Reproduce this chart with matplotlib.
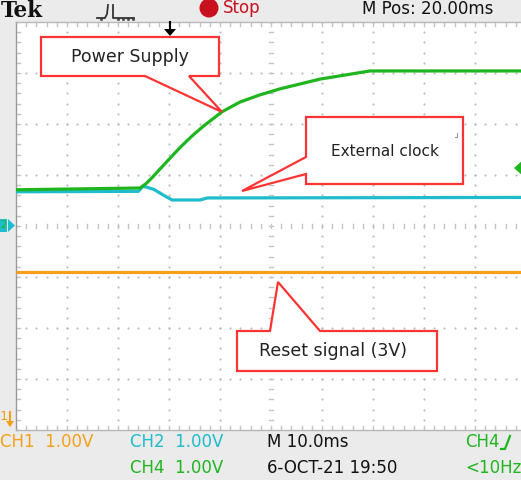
import matplotlib
matplotlib.use('Agg')
import matplotlib.pyplot as plt
from matplotlib.patches import Polygon, Rectangle, Circle
import numpy as np

# ---------------- data (time in ms, level in divisions, 1 V/div) ----------------
t_ch4 = [0, 24.3, 25.5, 26.7, 27.8, 29.0, 30.4, 31.8, 33.3, 34.9, 36.9, 40.4, 43.9, 47.8,
         51.8, 55.7, 59.6, 64.5, 69.4, 100]
v_ch4 = [0.71, 0.745, 0.83, 0.95, 1.07, 1.20, 1.35, 1.50, 1.65, 1.80, 1.97, 2.24, 2.43, 2.57,
         2.69, 2.785, 2.88, 2.96, 3.04, 3.04]
t_ch2 = [0, 24.0, 24.9, 27.0, 29.0, 30.6, 36.1, 37.5, 100]
v_ch2 = [0.67, 0.68, 0.78, 0.72, 0.60, 0.51, 0.51, 0.55, 0.56]
t_ch1 = [0, 100]
v_ch1 = [-0.90, -0.90]

top_texts = ["Tek", "Stop", "M Pos: 20.00ms"]
bottom_row1 = ["CH1  1.00V", "CH2  1.00V", "M 10.0ms", "CH4"]
bottom_row2 = ["CH4  1.00V", "6-OCT-21 19:50", "<10Hz"]
callouts = ["Power Supply", "External clock", "Reset signal (3V)"]

C_ORANGE = '#f5a01a'
C_CYAN = '#1ebccc'
C_GREEN = '#1fb51f'
C_RED = '#ff3333'
FONT = 'DejaVu Sans'

W, H = 521, 480
fig = plt.figure(figsize=(W / 100, H / 100), dpi=100)
fig.patch.set_facecolor('#ebebeb')

# ---------------- scope screen ----------------
L, T, R, B = 16, 22, 526, 430
ax = fig.add_axes([L / W, (H - B) / H, (R - L) / W, (B - T) / H])
ax.set_xlim(0, 100)
ax.set_ylim(-4, 4)
ax.set_facecolor('white')
for s in ax.spines.values():
    s.set_color('#b8b8b8')
    s.set_linewidth(1.0)
ax.spines['left'].set_color('#9a9a9a')
ax.set_xticks([]); ax.set_yticks([])

dot = dict(color='#bcbcbc', s=2.4, linewidths=0, zorder=1)
ys = np.arange(-4, 4.01, 0.2)
xs = np.arange(0, 100.1, 2)
for gx in range(10, 100, 10):
    if gx == 50:
        continue
    ax.scatter(np.full_like(ys, gx), ys, **dot)
for gy in range(-3, 4):
    if gy == 0:
        continue
    ax.scatter(xs, np.full_like(xs, gy), **dot)
# centre lines: short dashes
for x in xs:
    ax.plot([x, x], [-0.045, 0.045], color='#c4c4c4', lw=1.0, zorder=1)
for y in ys:
    ax.plot([49.6, 50.4], [y, y], color='#c4c4c4', lw=1.0, zorder=1)
# border ticks
for x in xs:
    ax.plot([x, x], [4, 3.92], color='#c4c4c4', lw=1.0, zorder=1)
    ax.plot([x, x], [-4, -3.92], color='#c4c4c4', lw=1.0, zorder=1)
for y in ys:
    ax.plot([0, 0.8], [y, y], color='#c4c4c4', lw=1.0, zorder=1)

ax.plot(t_ch1, v_ch1, color=C_ORANGE, lw=2.3, zorder=3, solid_capstyle='butt')
ax.plot(t_ch2, v_ch2, color=C_CYAN, lw=2.3, zorder=3, solid_capstyle='butt', solid_joinstyle='round')
ax.plot(t_ch4, v_ch4, color=C_GREEN, lw=2.3, zorder=4, solid_capstyle='butt', solid_joinstyle='round')

# ---------------- overlay in pixel coordinates ----------------
ov = fig.add_axes([0, 0, 1, 1], zorder=5)
ov.set_xlim(0, W); ov.set_ylim(H, 0)
ov.axis('off')
ov.patch.set_alpha(0)

# top bar
ov.text(1, 11, top_texts[0], fontsize=15.5, fontweight='bold', family='DejaVu Serif', va='center', ha='left', color='#111111')
ov.plot([97, 105, 107, 108], [18, 18, 14, 5], color='#333333', lw=1.3)
ov.plot([113, 113, 134], [5, 18, 18], color='#333333', lw=1.3)
ov.scatter([101, 118, 123, 128, 133], [19, 19, 19, 19, 19], s=1.5, color='#555555')
ov.add_patch(Circle((209, 8), 9.5, color='#c8101e', lw=0))
ov.text(223, 8, top_texts[1], fontsize=12, family=FONT, va='center', ha='left', color='#c8101e')
ov.text(362, 9, top_texts[2], fontsize=12, family=FONT, va='center', ha='left', color='#111111')
# trigger position arrow
ov.plot([170, 170], [22, 30], color='black', lw=1.5)
ov.add_patch(Polygon([[164, 29], [176, 29], [170, 36]], closed=True, color='black', lw=0))

# left markers
ov.add_patch(Rectangle((0, 219), 7, 13, color=C_CYAN, lw=0))
ov.text(3.5, 225.5, "2", fontsize=7, color=C_GREEN, ha='center', va='center', family=FONT)
ov.add_patch(Polygon([[8, 219], [8, 232], [15, 225.5]], closed=True, color=C_CYAN, lw=0))
ov.text(0, 417, "1", fontsize=9.5, color=C_ORANGE, ha='left', va='center', family=FONT)
ov.plot([10, 10], [412, 425], color=C_ORANGE, lw=1.5)
ov.add_patch(Polygon([[6, 421], [14, 421], [10, 427]], closed=True, color=C_ORANGE, lw=0))
# right marker
ov.add_patch(Polygon([[514, 168], [523, 160], [523, 176]], closed=True, color=C_GREEN, lw=0))

# bottom bar
fs = 12
ov.text(0, 442, bottom_row1[0], fontsize=fs, family=FONT, color=C_ORANGE, va='center', ha='left')
ov.text(130, 442, bottom_row1[1], fontsize=fs, family=FONT, color=C_CYAN, va='center', ha='left')
ov.text(267, 442, bottom_row1[2], fontsize=fs, family=FONT, color='#111111', va='center', ha='left')
ov.text(465, 442, bottom_row1[3], fontsize=fs, family=FONT, color=C_GREEN, va='center', ha='left')
ov.plot([501, 505, 510], [449, 449, 436], color=C_GREEN, lw=1.6)
ov.text(130, 468, bottom_row2[0], fontsize=fs, family=FONT, color=C_GREEN, va='center', ha='left')
ov.text(267, 468, bottom_row2[1], fontsize=fs, family=FONT, color='#111111', va='center', ha='left')
ov.text(465, 468, bottom_row2[2], fontsize=fs, family=FONT, color=C_GREEN, va='center', ha='left')

# callouts
co = dict(closed=True, facecolor='white', edgecolor=C_RED, lw=1.6, joinstyle='miter')
ov.add_patch(Polygon([[41, 37], [219, 37], [219, 76], [189, 76], [222, 112], [145, 76], [41, 76]], **co))
ov.text(130, 57, callouts[0], fontsize=12.5, family=FONT, color='#222222', ha='center', va='center')
ov.add_patch(Polygon([[306, 117], [463, 117], [463, 184], [306, 184], [306, 174], [242, 191], [306, 157]], **co))
ov.text(385, 152, callouts[1], fontsize=11, family=FONT, color='#222222', ha='center', va='center')
ov.plot([455, 457, 457], [137, 137, 133], color='#999999', lw=0.8)
ov.add_patch(Polygon([[237, 331], [270, 331], [278, 282], [320, 331], [437, 331], [437, 371], [237, 371]], **co))
ov.text(333, 351, callouts[2], fontsize=12.5, family=FONT, color='#222222', ha='center', va='center')

fig.savefig('out.png', dpi=100, facecolor=fig.get_facecolor())
